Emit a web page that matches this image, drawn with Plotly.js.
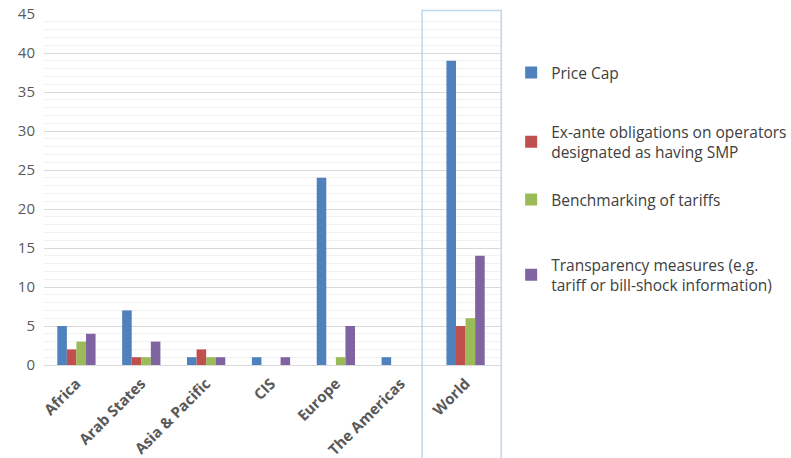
<!DOCTYPE html>
<html><head><meta charset="utf-8">
<script src="https://cdn.plot.ly/plotly-3.0.1.min.js"></script>
<style>body{margin:0;background:#fff}#chart{width:791px;height:458px}</style>
</head><body><div id="chart"></div>
<script>
const categories = ["Africa","Arab States","Asia & Pacific","CIS","Europe","The Americas","World"];
const seriesNames = ["Price Cap","Ex-ante obligations on operators<br>designated as having SMP","Benchmarking of tariffs","Transparency measures (e.g.<br>tariff or bill-shock information)"];
const priceCap = [5,7,1,1,24,1,39];
const exAnte = [2,1,2,0,0,0,5];
const benchmarking = [3,1,1,0,1,0,6];
const transparency = [4,3,1,1,5,0,14];
const colors = ["#4F81BD","#C0504D","#9BBB59","#8064A2"];
const values = [priceCap, exAnte, benchmarking, transparency];
const legendIds = ["legend","legend2","legend3","legend4"];
const legendY = [0.832, 0.635, 0.47, 0.256];

const traces = values.map((v,i)=>({
  type:"bar", x:categories, y:v, name:seriesNames[i],
  marker:{color:colors[i]}, legend:legendIds[i]
}));
const wi = categories.indexOf("World");
const layout = {
  width:791, height:458,
  margin:{l:44, r:289, t:14, b:93, autoexpand:false},
  paper_bgcolor:"#fff", plot_bgcolor:"#fff",
  barmode:"group", bargap:0.41, bargroupgap:0,
  font:{family:"Open Sans, Liberation Sans, sans-serif", color:"#595959"},
  yaxis:{range:[0,45], dtick:5, gridcolor:"#d9d9d9", gridwidth:1,
    tickfont:{size:15, color:"#595959"}, zeroline:false, showline:false, ticklabelstandoff:8,
    minor:{dtick:1, showgrid:true, gridcolor:"#f2f2f2", gridwidth:1}, fixedrange:true},
  xaxis:{tickangle:-45, tickfont:{size:15, color:"#595959", weight:"bold"}, ticklabelstandoff:3,
    showline:true, linecolor:"#d9d9d9", linewidth:1, ticks:"", fixedrange:true},
  showlegend:true,
  shapes:[{type:"rect", xref:"x", yref:"paper", x0:wi-0.67, x1:wi+0.55, y0:-0.28, y1:1.01,
    line:{color:"#BDD7EE", width:1.5}, fillcolor:"rgba(0,0,0,0)", layer:"above"}]
};
legendIds.forEach((id,i)=>{
  layout[id] = {x:1.02, xanchor:"left", y:legendY[i], yanchor:"middle",
    font:{size:15.5, color:"#404040"}, itemwidth:30, bgcolor:"rgba(0,0,0,0)"};
});
Plotly.newPlot("chart", traces, layout, {displayModeBar:false, staticPlot:true});
</script></body></html>
